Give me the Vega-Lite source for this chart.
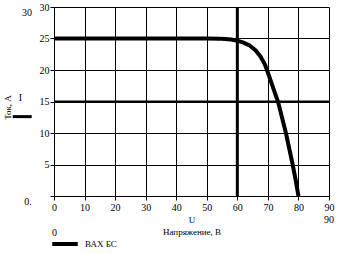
{
  "$schema": "https://vega.github.io/schema/vega-lite/v6.json",
  "width": 275,
  "height": 189,
  "autosize": {"type": "none"},
  "padding": {"left": 54, "top": 7, "right": 8, "bottom": 58},
  "background": "white",
  "config": {
    "view": {"stroke": null},
    "font": "Liberation Serif",
    "axis": {
      "labelFont": "Liberation Serif",
      "labelFontSize": 10,
      "labelColor": "black",
      "labelOverlap": false,
      "labelFlush": false,
      "titleFont": "Liberation Serif",
      "titleFontSize": 9,
      "titleFontWeight": "normal",
      "titleColor": "black",
      "domainColor": "black",
      "tickColor": "black",
      "gridColor": "black",
      "gridOpacity": 1,
      "gridWidth": 1,
      "tickSize": 4,
      "domainWidth": 1
    },
    "legend": {"labelFont": "Liberation Serif", "labelFontSize": 9, "labelColor": "black"}
  },
  "datasets": {
    "curve": [
      {"u": 0, "i": 25, "s": "ВАХ БС"},
      {"u": 10, "i": 25, "s": "ВАХ БС"},
      {"u": 20, "i": 25, "s": "ВАХ БС"},
      {"u": 30, "i": 25, "s": "ВАХ БС"},
      {"u": 40, "i": 25, "s": "ВАХ БС"},
      {"u": 50, "i": 25, "s": "ВАХ БС"},
      {"u": 54, "i": 24.98, "s": "ВАХ БС"},
      {"u": 56, "i": 24.93, "s": "ВАХ БС"},
      {"u": 58, "i": 24.83, "s": "ВАХ БС"},
      {"u": 60, "i": 24.65, "s": "ВАХ БС"},
      {"u": 62, "i": 24.35, "s": "ВАХ БС"},
      {"u": 64, "i": 23.9, "s": "ВАХ БС"},
      {"u": 66, "i": 23.1, "s": "ВАХ БС"},
      {"u": 67.5, "i": 22.2, "s": "ВАХ БС"},
      {"u": 69, "i": 20.9, "s": "ВАХ БС"},
      {"u": 69.7, "i": 20, "s": "ВАХ БС"},
      {"u": 71, "i": 18.2, "s": "ВАХ БС"},
      {"u": 72.2, "i": 16.5, "s": "ВАХ БС"},
      {"u": 73.3, "i": 15, "s": "ВАХ БС"},
      {"u": 74.6, "i": 12.5, "s": "ВАХ БС"},
      {"u": 75.9, "i": 10, "s": "ВАХ БС"},
      {"u": 77, "i": 7.5, "s": "ВАХ БС"},
      {"u": 78.1, "i": 5, "s": "ВАХ БС"},
      {"u": 79.1, "i": 2.5, "s": "ВАХ БС"},
      {"u": 80, "i": 0, "s": "ВАХ БС"}
    ],
    "notes": [
      {"u": -8.8, "i": 29, "t": "30"},
      {"u": -8.5, "i": -1, "t": "0."},
      {"u": 0.2, "i": -5.8, "t": "0"},
      {"u": 90, "i": -3.8, "t": "90"},
      {"u": -11, "i": 15.5, "t": "I"}
    ],
    "vmark": [
      {"u": 60, "i": 0, "i2": 30}
    ],
    "hmarks": [
      {"u": 0, "u2": 90, "i": 15, "w": 2},
      {"u": -13.5, "u2": -7.3, "i": 12.6, "w": 3}
    ]
  },
  "encoding": {
    "x": {
      "field": "u", "type": "quantitative",
      "scale": {"domain": [0, 90], "nice": false, "zero": false},
      "axis": {
        "values": [0, 10, 20, 30, 40, 50, 60, 70, 80, 90],
        "grid": true,
        "labelPadding": 2,
        "title": ["U", "Напряжение, В"],
        "titlePadding": 3,
        "titleLineHeight": 12
      }
    },
    "y": {
      "field": "i", "type": "quantitative",
      "scale": {"domain": [0, 30], "nice": false, "zero": false},
      "axis": {
        "values": [0, 5, 10, 15, 20, 25, 30],
        "grid": true,
        "labelPadding": 1,
        "labelExpr": "datum.value == 0 ? '' : datum.label",
        "title": "Ток, А",
        "titleAngle": -90,
        "titleX": -47,
        "titleY": 100,
        "titleBaseline": "middle",
        "titleAlign": "center"
      }
    }
  },
  "layer": [
    {
      "data": {"name": "curve"},
      "mark": {"type": "line", "stroke": "black", "strokeWidth": 4},
      "encoding": {
        "color": {
          "field": "s", "type": "nominal",
          "scale": {"domain": ["ВАХ БС"], "range": ["black"]},
          "legend": {
            "title": null,
            "orient": "none",
            "legendX": -4,
            "legendY": 222,
            "symbolType": "stroke",
            "symbolStrokeWidth": 4,
            "symbolSize": 650,
            "labelOffset": 5
          }
        }
      }
    },
    {
      "data": {"name": "vmark"},
      "mark": {"type": "rule", "stroke": "black", "strokeWidth": 3},
      "encoding": {"y2": {"field": "i2"}}
    },
    {
      "data": {"name": "hmarks"},
      "mark": {"type": "rule", "stroke": "black"},
      "encoding": {
        "x2": {"field": "u2"},
        "strokeWidth": {"field": "w", "type": "quantitative", "scale": null}
      }
    },
    {
      "data": {"name": "notes"},
      "mark": {"type": "text", "font": "Liberation Serif", "fontSize": 10, "color": "black", "align": "center", "baseline": "middle"},
      "encoding": {
        "text": {"field": "t"}
      }
    }
  ]
}
